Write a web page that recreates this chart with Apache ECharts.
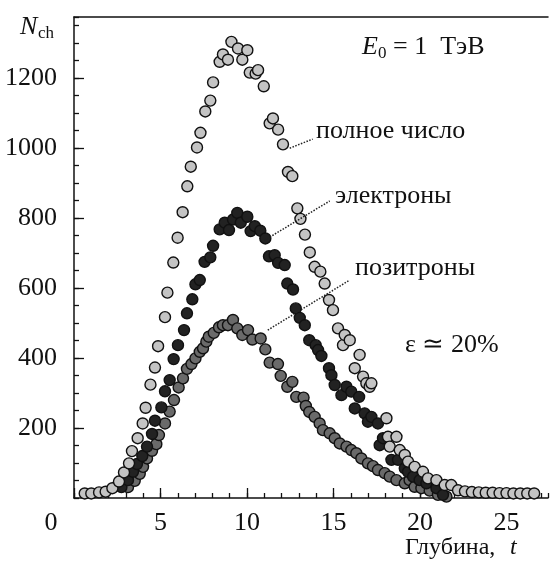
<!DOCTYPE html>
<html>
<head>
<meta charset="utf-8">
<script src="https://cdn.jsdelivr.net/npm/echarts/dist/echarts.min.js"></script>
<style>
html, body {margin: 0; padding: 0; background: #fff;}
#chart {width: 550px; height: 561px;}
</style>
</head>
<body>
<div id="chart"></div>
<script>
// полное число
var totalPts = [
    [0.62, 13], [1.0, 13], [1.45, 16], [1.83, 18], [2.22, 28], [2.6, 47], [2.89, 73], [3.18, 99],
    [3.35, 134], [3.68, 171], [3.97, 213], [4.14, 258], [4.42, 324], [4.68, 373], [4.86, 434],
    [5.26, 517], [5.4, 587], [5.74, 673], [5.99, 744], [6.28, 817], [6.55, 891], [6.75, 947],
    [7.11, 1002], [7.31, 1044], [7.59, 1105], [7.88, 1136], [8.04, 1188], [8.42, 1247], [8.61, 1268],
    [8.9, 1253], [9.1, 1304], [9.48, 1285], [9.73, 1253], [10.02, 1280], [10.16, 1216], [10.5, 1213],
    [10.64, 1223], [10.97, 1177], [11.31, 1071], [11.5, 1085], [11.8, 1053], [12.08, 1011],
    [12.37, 932], [12.62, 920], [12.91, 828], [13.09, 798], [13.35, 753], [13.63, 702], [13.91, 661],
    [14.24, 647], [14.49, 613], [14.74, 566], [14.97, 537], [15.26, 485], [15.55, 437], [15.65, 466],
    [15.94, 451], [16.23, 371], [16.51, 409], [16.71, 347], [16.9, 328], [17.09, 318], [17.19, 328],
    [18.06, 228], [18.15, 175], [18.25, 147], [18.64, 175], [18.83, 137], [19.12, 123], [19.31, 104],
    [19.69, 89], [20.17, 75], [20.46, 56], [20.95, 51], [21.43, 37], [21.81, 37], [22.2, 22],
    [22.6, 19], [23.0, 17], [23.4, 16], [23.8, 15], [24.2, 15], [24.6, 14], [25.0, 14], [25.4, 13],
    [25.8, 13], [26.2, 13], [26.6, 13]
];
// электроны
var electronPts = [
    [2.74, 31], [3.12, 51], [3.41, 75], [3.64, 97], [3.95, 120], [4.22, 147], [4.51, 183], [4.68, 221],
    [5.05, 259], [5.26, 305], [5.53, 337], [5.76, 397], [6.01, 437], [6.36, 480], [6.53, 528],
    [6.84, 568], [7.02, 611], [7.27, 623], [7.55, 675], [7.88, 688], [8.04, 721], [8.42, 768],
    [8.71, 787], [8.96, 766], [9.19, 796], [9.44, 815], [9.64, 787], [10.02, 804], [10.21, 763],
    [10.45, 777], [10.77, 764], [11.06, 742], [11.27, 691], [11.6, 694], [11.8, 672], [12.18, 666],
    [12.33, 613], [12.66, 596], [12.82, 542], [13.05, 515], [13.34, 494], [13.6, 451], [13.97, 437],
    [14.11, 423], [14.3, 406], [14.74, 371], [14.88, 351], [15.07, 323], [15.46, 294], [15.75, 318],
    [16.03, 304], [16.23, 256], [16.48, 289], [16.8, 242], [16.99, 218], [17.19, 232], [17.57, 213],
    [17.67, 151], [17.86, 171], [18.35, 109], [18.73, 109], [19.12, 85], [19.31, 75], [19.6, 61],
    [19.98, 51], [20.37, 42], [20.95, 28], [21.33, 9]
];
// позитроны
var positronPts = [
    [3.12, 31], [3.51, 49], [3.8, 69], [3.99, 89], [4.22, 113], [4.51, 135], [4.76, 154], [4.91, 180],
    [5.26, 213], [5.53, 247], [5.78, 280], [6.05, 316], [6.3, 342], [6.53, 369], [6.79, 383],
    [7.02, 399], [7.27, 418], [7.46, 428], [7.65, 447], [7.79, 461], [8.08, 472], [8.38, 488],
    [8.61, 494], [8.9, 494], [9.19, 509], [9.44, 485], [9.73, 466], [10.06, 480], [10.31, 453],
    [10.79, 456], [11.06, 425], [11.31, 387], [11.79, 383], [11.95, 349], [12.33, 318], [12.62, 332],
    [12.85, 289], [13.27, 287], [13.4, 263], [13.6, 246], [13.91, 232], [14.2, 213], [14.39, 194],
    [14.78, 185], [15.07, 171], [15.36, 156], [15.75, 147], [16.03, 137], [16.32, 128], [16.61, 113],
    [16.99, 99], [17.28, 91], [17.57, 80], [17.96, 71], [18.25, 61], [18.64, 51], [19.12, 42],
    [19.4, 51], [19.69, 32], [20.08, 28], [20.56, 21], [21.04, 9], [21.53, 4]
];
// выноски подписей (в координатах данных)
var totalLeader = [[12.47, 1000], [13.8, 1026]];
var electronLeader = [[11.02, 737], [14.78, 849]];
var positronLeader = [[11.2, 480], [15.94, 623]];

var xMax = 27.4, yMax = 1375;
var serif = 'Liberation Serif';
var ink = '#111';

function leader(seg) {
    return {
        silent: true,
        symbol: 'none',
        label: {show: false},
        lineStyle: {type: 'dotted', color: '#222', width: 1.5},
        data: [[{coord: seg[0]}, {coord: seg[1]}]]
    };
}

function dots(name, pts, fill, seg) {
    return {
        name: name,
        type: 'scatter',
        data: pts,
        symbol: 'circle',
        symbolSize: 11,
        itemStyle: {color: fill, borderColor: ink, borderWidth: 1.4, opacity: 1},
        markLine: leader(seg)
    };
}

var tickText = {t: {color: ink, fontFamily: serif, fontSize: 26}};

var chart = echarts.init(document.getElementById('chart'));
var option = {
    animation: false,
    backgroundColor: '#fff',
    textStyle: {fontFamily: serif, color: ink},
    grid: {left: 74, right: 2, top: 17, bottom: 63, outerBoundsMode: 'none'},
    xAxis: [{
        type: 'value', min: 0, max: xMax, interval: 5, position: 'bottom',
        axisLine: {show: true, onZero: false, lineStyle: {color: ink, width: 1.5}},
        axisTick: {show: true, inside: true, length: 10, lineStyle: {color: ink, width: 1.3}},
        axisLabel: {
            show: true, showMaxLabel: false, margin: 12,
            color: ink, fontFamily: serif, fontSize: 26,
            formatter: function (v) {
                return v === 0 ? '{z|0}' : '{t|' + v + '}';
            },
            rich: {
                z: {padding: [0, 46, 0, 0], color: ink, fontFamily: serif, fontSize: 26},
                t: tickText.t
            }
        },
        splitLine: {show: false}
    }, {
        type: 'value', min: 0, max: xMax, interval: 1, position: 'bottom',
        axisLine: {show: false},
        axisTick: {show: true, inside: true, length: 5, lineStyle: {color: ink, width: 1.3}},
        axisLabel: {show: false},
        splitLine: {show: false}
    }, {
        type: 'value', min: 0, max: xMax, position: 'top',
        axisLine: {show: true, onZero: false, lineStyle: {color: ink, width: 1.5}},
        axisTick: {show: false},
        axisLabel: {show: false},
        splitLine: {show: false}
    }],
    yAxis: [{
        type: 'value', min: 0, max: yMax, interval: 200,
        axisLine: {show: true, onZero: false, lineStyle: {color: ink, width: 1.5}},
        axisTick: {show: true, inside: true, length: 10, lineStyle: {color: ink, width: 1.3}},
        axisLabel: {
            show: true, showMinLabel: false, showMaxLabel: false, margin: 17,
            color: ink, fontFamily: serif, fontSize: 26,
            formatter: function (v) {
                return '{t|' + v + '}';
            },
            rich: tickText
        },
        splitLine: {show: false}
    }, {
        type: 'value', min: 0, max: yMax, interval: 50, position: 'left',
        axisLine: {show: false},
        axisTick: {show: true, inside: true, length: 5, lineStyle: {color: ink, width: 1.3}},
        axisLabel: {show: false},
        splitLine: {show: false}
    }],
    graphic: [
        {type: 'text', x: 20, y: 27, style: {text: 'N', font: 'italic 26px ' + serif, fill: ink, verticalAlign: 'middle'}},
        {type: 'text', x: 38, y: 34, style: {text: 'ch', font: '17px ' + serif, fill: ink, verticalAlign: 'middle'}},
        {type: 'text', x: 362, y: 47, style: {text: 'E', font: 'italic 26px ' + serif, fill: ink, verticalAlign: 'middle'}},
        {type: 'text', x: 378, y: 54, style: {text: '0', font: '17px ' + serif, fill: ink, verticalAlign: 'middle'}},
        {type: 'text', x: 393, y: 47, style: {text: '= 1  ТэВ', font: '26px ' + serif, fill: ink, verticalAlign: 'middle'}},
        {type: 'text', x: 316, y: 131, style: {text: 'полное число', font: '26px ' + serif, fill: ink, verticalAlign: 'middle'}},
        {type: 'text', x: 335, y: 196, style: {text: 'электроны', font: '26px ' + serif, fill: ink, verticalAlign: 'middle'}},
        {type: 'text', x: 355, y: 268, style: {text: 'позитроны', font: '26px ' + serif, fill: ink, verticalAlign: 'middle'}},
        {type: 'text', x: 405, y: 345, style: {text: 'ε ≃ 20%', font: '26px ' + serif, fill: ink, verticalAlign: 'middle'}},
        {type: 'text', x: 405, y: 548, style: {text: 'Глубина, ', font: '24px ' + serif, fill: ink, verticalAlign: 'middle'}},
        {type: 'text', x: 510, y: 548, style: {text: 't', font: 'italic 24px ' + serif, fill: ink, verticalAlign: 'middle'}}
    ],
    series: [
        dots('позитроны', positronPts, '#6a6a6a', positronLeader),
        dots('электроны', electronPts, '#222222', electronLeader),
        dots('полное число', totalPts, '#c4c4c4', totalLeader)
    ]
};
chart.setOption(option);
</script>
</body>
</html>
